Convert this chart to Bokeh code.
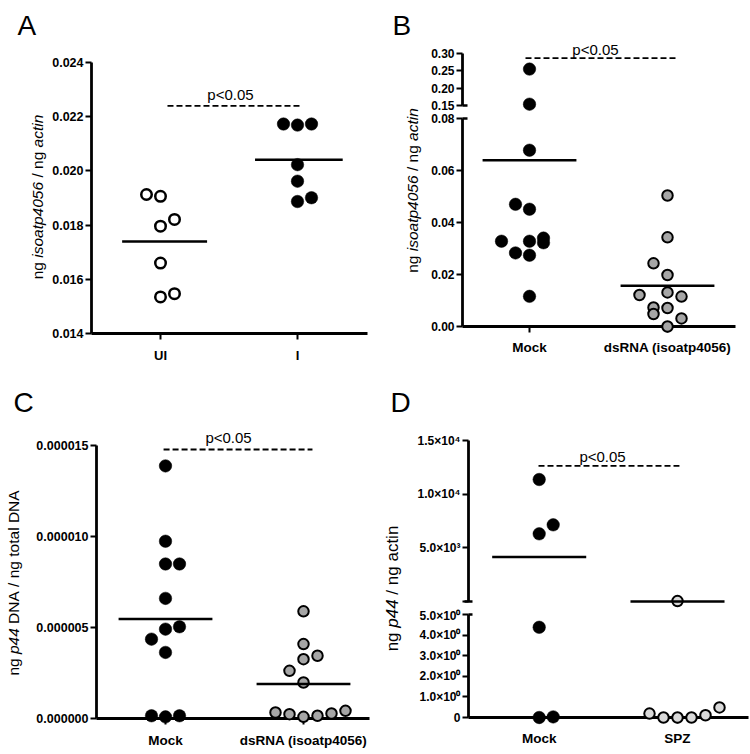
import numpy as np
from bokeh.plotting import figure
from bokeh.models import Range1d, FixedTicker, ColumnDataSource
from bokeh.core.properties import value
from bokeh.layouts import row, column
from bokeh.embed import file_html
from bokeh.resources import INLINE

FONT = "Liberation Sans"

# ---------------- data ----------------
# Panel A
a_groups = ["UI", "I"]
a_ui_values = [0.01913, 0.01906, 0.01796, 0.01821, 0.01660, 0.01535, 0.01547]
a_ui_cols = [-1, 0, 0, 1, 0, 0, 1]
a_i_values = [0.02173, 0.02169, 0.02173, 0.02023, 0.01962, 0.01887, 0.01901]
a_i_cols = [-1, 0, 1, 0, 0, 0, 1]
a_yticks = [0.014, 0.016, 0.018, 0.020, 0.022, 0.024]
a_ytick_labels = ["0.014", "0.016", "0.018", "0.020", "0.022", "0.024"]
a_sig_level = 0.0224

# Panel B
b_groups = ["Mock", "dsRNA (isoatp4056)"]
b_mock_values = [0.255, 0.1538, 0.0678, 0.0470, 0.0451, 0.0328, 0.0328, 0.0340, 0.0322, 0.0283, 0.0274, 0.0116]
b_mock_cols = [0, 0, 0, -1, 0, -2, 0, 1, 1, -1, 0, 0]
b_ds_values = [0.0504, 0.0343, 0.0243, 0.0198, 0.0121, 0.0131, 0.0115, 0.0073, 0.0071, 0.0048, 0.0031, 0.0]
b_ds_cols = [0, 0, -1, 0, -2, 0, 1, -1, 0, -1, 1, 0]
b_upper_ticks = [0.15, 0.20, 0.25, 0.30]
b_upper_labels = ["0.15", "0.20", "0.25", "0.30"]
b_lower_ticks = [0.0, 0.02, 0.04, 0.06, 0.08]
b_lower_labels = ["0.00", "0.02", "0.04", "0.06", "0.08"]
b_sig_level = 0.2866

# Panel C
c_groups = ["Mock", "dsRNA (isoatp4056)"]
c_mock_values = [13.88e-6, 9.74e-6, 8.49e-6, 8.49e-6, 6.60e-6, 5.04e-6, 4.91e-6, 4.36e-6, 3.63e-6, 0.15e-6, 0.09e-6, 0.15e-6]
c_mock_cols = [0, 0, 0, 1, 0, 1, 0, -1, 0, -1, 0, 1]
c_ds_values = [5.89e-6, 4.09e-6, 3.26e-6, 3.45e-6, 2.62e-6, 1.98e-6, 0.33e-6, 0.24e-6, 0.09e-6, 0.15e-6, 0.28e-6, 0.42e-6]
c_ds_cols = [0, 0, 0, 1, -1, 0, -2, -1, 0, 1, 2, 3]
c_yticks = [0.0, 5e-6, 10e-6, 15e-6]
c_ytick_labels = ["0.000000", "0.000005", "0.000010", "0.000015"]
c_sig_level = 14.78e-6

# Panel D
d_groups = ["Mock", "SPZ"]
d_mock_values = [11366, 7143, 6304, 4.38, 0.0, 0.03]
d_mock_cols = [0, 1, 0, 0, 0, 1]
d_spz_values = [40, 0.19, 0.0, 0.0, 0.0, 0.11, 0.49]
d_spz_cols = [0, -2, -1, 0, 1, 2, 3]
d_upper_ticks = [0, 5000, 10000, 15000]
d_upper_labels = ["", "5.0\u00d710\u00b3", "1.0\u00d710\u2074", "1.5\u00d710\u2074"]
d_lower_ticks = [0, 1, 2, 3, 4, 5]
d_lower_labels = ["0", "1.0\u00d710\u2070", "2.0\u00d710\u2070", "3.0\u00d710\u2070", "4.0\u00d710\u2070", "5.0\u00d710\u2070"]
d_sig_level = 12640

# y-axis titles, as (word, style) tokens separated by single spaces
ylab_isoatp = [("ng", "normal"), ("isoatp4056", "italic"), ("/", "normal"), ("ng", "normal"), ("actin", "italic")]
ylab_c = [("ng", "normal"), ("p44", "italic"), ("DNA", "normal"), ("/", "normal"), ("ng", "normal"),
          ("total", "normal"), ("DNA", "normal")]
ylab_d = [("ng", "normal"), ("p44", "italic"), ("/", "normal"), ("ng", "normal"), ("actin", "normal")]

# ---------------- helpers ----------------
ARIAL_W = {' ': 278, 'n': 556, 'g': 556, 'i': 222, 's': 500, 'o': 556, 'a': 556, 't': 278,
           'p': 556, '4': 556, '0': 556, '5': 556, '6': 556, '/': 278, 'c': 500, 'D': 722,
           'N': 722, 'A': 667, 'l': 222}

DOT_STEP_PX = 14


def text_width(s, size):
    return sum(ARIAL_W.get(ch, 556) for ch in s) * size / 1000.0


def make_gutter(w, mbt, fh, mbb, letter, letter_x, letter_base, tokens, size, cx, cy):
    g = figure(frame_width=w, frame_height=fh, min_border_left=0, min_border_right=0,
               min_border_top=mbt, min_border_bottom=mbb,
               x_range=Range1d(0, w), y_range=Range1d(0, fh),
               x_axis_location=None, y_axis_location=None,
               toolbar_location=None, output_backend="svg")
    g.outline_line_color = None
    g.grid.visible = False
    bottom = mbt + fh
    r = g.text(x=[letter_x], y=[bottom - letter_base], text=[letter], text_font=value(FONT),
               text_font_size=value("28px"), text_align="left", text_baseline="alphabetic",
               text_color="black")
    r.level = "overlay"
    sp = text_width(" ", size)
    total = sum(text_width(t, size) for t, _ in tokens) + sp * (len(tokens) - 1)
    y = bottom - (cy + total / 2.0)
    ys = []
    for t, _ in tokens:
        ys.append(y)
        y += text_width(t, size) + sp
    src = ColumnDataSource(dict(x=[cx] * len(tokens), y=ys, text=[t for t, _ in tokens],
                                style=[s for _, s in tokens]))
    r = g.text(x="x", y="y", text="text", source=src, angle=np.pi / 2, text_font=value(FONT),
               text_font_size=value(f"{size}px"), text_font_style="style",
               text_align="left", text_baseline="middle", text_color="black")
    r.level = "overlay"
    return g


def make_fig(mbl, fw, mbr, mbt, fh, mbb, xr, yr, x_axis=True):
    p = figure(frame_width=fw, frame_height=fh, min_border_left=mbl, min_border_right=mbr,
               min_border_top=mbt, min_border_bottom=mbb,
               x_range=Range1d(*xr), y_range=Range1d(*yr),
               x_axis_location="below" if x_axis else None,
               toolbar_location=None, output_backend="svg")
    p.grid.visible = False
    p.outline_line_color = None
    p.background_fill_color = "white"
    p.border_fill_color = "white"
    return p


def style_axis(ax, ticks, labels, size, standoff):
    ax.ticker = FixedTicker(ticks=list(ticks))
    ax.major_label_overrides = {t: l for t, l in zip(ticks, labels)}
    ax.axis_line_width = 2.8
    ax.axis_line_color = "black"
    ax.major_tick_line_width = 2
    ax.major_tick_line_color = "black"
    ax.major_tick_out = 6
    ax.major_tick_in = 0
    ax.minor_tick_line_color = None
    ax.major_label_text_font = FONT
    ax.major_label_text_font_style = "bold"
    ax.major_label_text_font_size = f"{size}px"
    ax.major_label_text_color = "black"
    ax.major_label_standoff = standoff


def ppu(p):
    return p.frame_width / (p.x_range.end - p.x_range.start)


def ppu_y(p):
    return p.frame_height / (p.y_range.end - p.y_range.start)


def draw_points(p, pos, values, cols, style):
    k = DOT_STEP_PX / ppu(p)
    xs = [pos + c * k for c in cols]
    r = p.scatter(xs, values, marker="circle", **style)
    r.level = "overlay"


def draw_mean(p, pos, m, hw):
    r = p.segment(x0=[pos - hw], x1=[pos + hw], y0=[m], y1=[m], line_color="black", line_width=2.5)
    r.level = "overlay"


def draw_sig(p, x0, x1, level, xt, off):
    r = p.line([x0, x1], [level, level], line_dash="6 3", line_width=1.8, line_color="black")
    r.level = "overlay"
    r = p.text(x=[xt], y=[level + off / ppu_y(p)], text=["p<0.05"], text_font=value(FONT),
               text_font_size=value("15px"), text_align="center", text_baseline="middle",
               text_color="black")
    r.level = "overlay"


def break_bar(p, value_y, left_px, right_px):
    k = 1.0 / ppu(p)
    xs = p.x_range.start
    r = p.segment(x0=[xs - left_px * k], x1=[xs + right_px * k], y0=[value_y], y1=[value_y],
                  line_color="black", line_width=2.5)
    r.level = "overlay"


def split_draw(fu, fl, split, pos, vals, cols, st, hw):
    up = [(v, c) for v, c in zip(vals, cols) if v > split]
    lo = [(v, c) for v, c in zip(vals, cols) if v <= split]
    if up:
        draw_points(fu, pos, [v for v, _ in up], [c for _, c in up], st)
    if lo:
        draw_points(fl, pos, [v for v, _ in lo], [c for _, c in lo], st)
    m = float(np.mean(vals))
    draw_mean(fu if m > split else fl, pos, m, hw)


BLACK = dict(size=12.5, fill_color="black", line_color="black", line_width=0.5)
WHITE = dict(size=10.5, fill_color="white", line_color="black", line_width=2.5)
GRAY = dict(size=10.5, fill_color="#a6a6a6", line_color="black", line_width=2)
LGRAY = dict(size=10.5, fill_color="#d9d9d9", line_color="black", line_width=2)

# ---------------- Panel A ----------------
gA = make_gutter(48, 62, 271, 44, "A", 17, 25, ylab_isoatp, 15.5, 37, 196.5)
fA = make_fig(43, 276, 8, 62, 271, 44, (0.49635, 2.51095), (0.014, 0.024))
style_axis(fA.yaxis[0], a_yticks, a_ytick_labels, 12.5, 2)
style_axis(fA.xaxis[0], [1, 2], a_groups, 13, 8)
draw_points(fA, 1, a_ui_values, a_ui_cols, WHITE)
draw_points(fA, 2, a_i_values, a_i_cols, BLACK)
draw_mean(fA, 1.03, float(np.mean(a_ui_values)), 0.31)
draw_mean(fA, 2.01, float(np.mean(a_i_values)), 0.32)
draw_sig(fA, 1.051, 2.022, a_sig_level, 1.511, 11)
panelA = row(gA, column(fA))

# ---------------- Panel B ----------------
gB = make_gutter(50, 0, 377, 0, "B", 17, 25, ylab_isoatp, 15.5, 36.7, 190)
bx = (0.51449, 2.49275)
fBu = make_fig(37, 273, 13, 53, 52, 7, bx, (0.15, 0.30), x_axis=False)
fBl = make_fig(37, 273, 13, 6, 208, 51, bx, (0.0, 0.08))
style_axis(fBu.yaxis[0], b_upper_ticks, b_upper_labels, 12, 2)
style_axis(fBl.yaxis[0], b_lower_ticks, b_lower_labels, 12, 2)
style_axis(fBl.xaxis[0], [1, 2], b_groups, 13.5, 7)
split_draw(fBu, fBl, 0.08, 1, b_mock_values, b_mock_cols, BLACK, 0.34)
split_draw(fBu, fBl, 0.08, 2, b_ds_values, b_ds_cols, GRAY, 0.34)
draw_sig(fBu, 0.971, 2.072, b_sig_level, 1.478, 9)
break_bar(fBu, 0.15, 0, 5)
break_bar(fBl, 0.08, 0, 5)
panelB = row(gB, column(fBu, fBl))

# ---------------- Panel C ----------------
gC = make_gutter(33, 68, 273, 34, "C", 13, 25, ylab_c, 15.5, 13.3, 205.5)
fC = make_fig(61, 273, 8, 68, 273, 34, (0.5, 2.4783), (0.0, 15e-6))
style_axis(fC.yaxis[0], c_yticks, c_ytick_labels, 12.5, 2)
style_axis(fC.xaxis[0], [1, 2], c_groups, 13.5, 8)
draw_points(fC, 1, c_mock_values, c_mock_cols, BLACK)
draw_points(fC, 2, c_ds_values, c_ds_cols, GRAY)
draw_mean(fC, 1, float(np.mean(c_mock_values)), 0.34)
draw_mean(fC, 2, float(np.mean(c_ds_values)), 0.34)
draw_sig(fC, 0.986, 2.065, c_sig_level, 1.457, 12)
panelC = row(gC, column(fC))

# ---------------- Panel D ----------------
gD = make_gutter(35, 0, 375, 0, "D", 13, 25, ylab_d, 17, 15, 211)
dx = (0.4888, 2.5134)
fDu = make_fig(56, 280, 2, 63, 161, 7, dx, (0, 15000), x_axis=False)
fDl = make_fig(56, 280, 2, 6, 103, 35, dx, (0, 5))
style_axis(fDu.yaxis[0], d_upper_ticks, d_upper_labels, 12, 2)
style_axis(fDl.yaxis[0], d_lower_ticks, d_lower_labels, 12, 2)
style_axis(fDl.xaxis[0], [1, 2], d_groups, 13.5, 7)
split_draw(fDu, fDl, 5, 1, d_mock_values, d_mock_cols, BLACK, 0.34)
split_draw(fDu, fDl, 5, 2, d_spz_values, d_spz_cols, LGRAY, 0.34)
draw_sig(fDu, 0.995, 2.014, d_sig_level, 1.458, 9)
break_bar(fDu, 0, 4, 4)
break_bar(fDl, 5, 0, 4)
panelD = row(gD, column(fDu, fDl))

layout = column(row(panelA, panelB), row(panelC, panelD))

with open("out.html", "w") as f:
    f.write(file_html(layout, INLINE))
